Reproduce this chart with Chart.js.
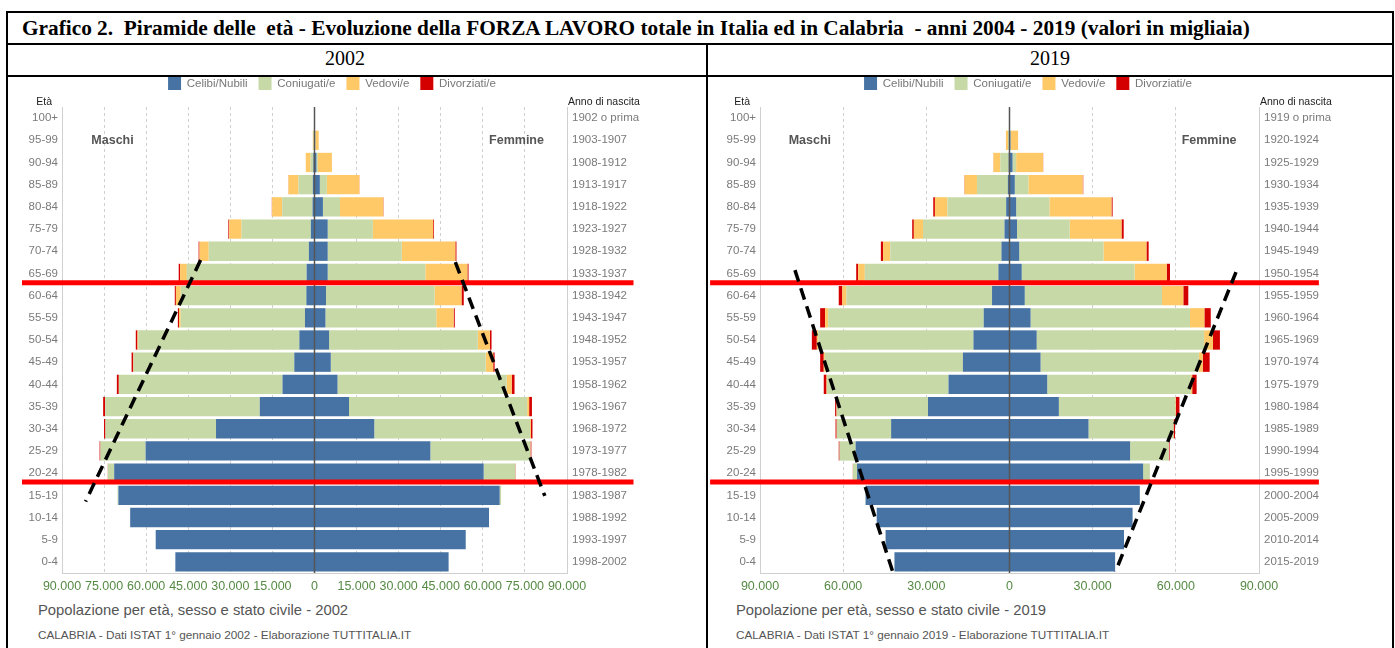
<!DOCTYPE html>
<html>
<head>
<meta charset="utf-8">
<script src="https://cdn.jsdelivr.net/npm/chart.js@4.4.1/dist/chart.umd.min.js"></script>
<style>
  body { margin:0; background:#fff; width:1395px; height:648px; overflow:hidden; position:relative; font-family:"Liberation Sans", Arial, sans-serif; }
  .ln { position:absolute; background:#000; }
  .t { position:absolute; white-space:pre; }
  canvas { position:absolute; }
</style>
</head>
<body>
<div class="ln" style="left:6px;top:11px;width:1388px;height:2px"></div>
<div class="ln" style="left:6px;top:11px;width:2px;height:637px"></div>
<div class="ln" style="left:1392px;top:11px;width:2px;height:637px"></div>
<div class="ln" style="left:6px;top:43px;width:1388px;height:1.5px"></div>
<div class="ln" style="left:6px;top:75px;width:1388px;height:2px"></div>
<div class="ln" style="left:706px;top:43px;width:2px;height:605px"></div>

<div class="t" style="left:22px;top:16px;font:bold 21.3px 'Liberation Serif',serif;line-height:25px">Grafico 2.  Piramide delle  età - Evoluzione della FORZA LAVORO totale in Italia ed in Calabria  - anni 2004 - 2019 (valori in migliaia)</div>
<div class="t" style="left:245px;width:200px;text-align:center;top:47px;font:20px 'Liberation Serif',serif;">2002</div>
<div class="t" style="left:950px;width:200px;text-align:center;top:47px;font:20px 'Liberation Serif',serif;">2019</div>

<canvas id="c2002" width="620" height="534" style="left:22px;top:66px"></canvas>
<canvas id="c2019" width="640" height="534" style="left:708px;top:66px"></canvas>

<div class="t" style="left:38px;top:601px;font:14.8px 'Liberation Sans',sans-serif;color:#555;line-height:18px">Popolazione per età, sesso e stato civile - 2002</div>
<div class="t" style="left:38px;top:628px;font:11.75px 'Liberation Sans',sans-serif;color:#555;line-height:14px">CALABRIA - Dati ISTAT 1° gennaio 2002 - Elaborazione TUTTITALIA.IT</div>
<div class="t" style="left:736px;top:601px;font:14.8px 'Liberation Sans',sans-serif;color:#555;line-height:18px">Popolazione per età, sesso e stato civile - 2019</div>
<div class="t" style="left:736px;top:628px;font:11.75px 'Liberation Sans',sans-serif;color:#555;line-height:14px">CALABRIA - Dati ISTAT 1° gennaio 2019 - Elaborazione TUTTITALIA.IT</div>

<script>
// age classes, top to bottom; values in thousands
const ages = ['100+','95-99','90-94','85-89','80-84','75-79','70-74','65-69','60-64','55-59','50-54','45-49','40-44','35-39','30-34','25-29','20-24','15-19','10-14','5-9','0-4'];
const status = ['Celibi/Nubili','Coniugati/e','Vedovi/e','Divorziati/e'];
const colors = ['#4673a3','#c6d9a7','#fec966','#d40000'];

const years2002 = ['1902 o prima','1903-1907','1908-1912','1913-1917','1918-1922','1923-1927','1928-1932','1933-1937','1938-1942','1943-1947','1948-1952','1953-1957','1958-1962','1963-1967','1968-1972','1973-1977','1978-1982','1983-1987','1988-1992','1993-1997','1998-2002'];
const years2019 = ['1919 o prima','1920-1924','1925-1929','1930-1934','1935-1939','1940-1944','1945-1949','1950-1954','1955-1959','1960-1964','1965-1969','1970-1974','1975-1979','1980-1984','1985-1989','1990-1994','1995-1999','2000-2004','2005-2009','2010-2014','2015-2019'];

// 2002
const m02Cel = [0.02,0.1,0.4,0.6,0.7,1.3,2.0,2.8,2.9,3.4,5.4,7.2,11.4,19.5,35.1,60.2,71.4,69.9,65.7,56.6,49.6];
const m02Con = [0.03,0.2,1.0,5.1,10.8,24.7,35.7,42.7,44.8,44.3,57.4,57.3,58.3,55.1,39.4,16.1,2.3,0.3,0,0,0];
const m02Ved = [0.05,0.3,1.7,3.6,3.6,4.4,3.3,2.4,1.7,0.6,0.3,0.1,0.05,0.03,0.02,0,0,0,0,0,0];
const m02Div = [0,0,0,0.05,0.1,0.3,0.3,0.5,0.4,0.4,0.6,0.6,0.7,0.7,0.5,0.3,0.05,0,0,0,0];
const f02Cel = [0.02,0.2,0.7,1.9,3.0,4.7,4.7,4.7,4.1,3.9,5.2,5.8,8.2,12.3,21.3,41.3,60.3,66.0,62.2,53.9,47.8];
const f02Con = [0.01,0.1,0.5,2.5,6.1,16.1,26.4,34.8,38.7,39.5,53.0,55.2,60.3,63.5,55.5,35.6,11.3,0.5,0,0,0];
const f02Ved = [0.1,1.2,5.0,11.6,15.4,21.5,19.1,15.0,9.6,6.2,4.3,2.7,1.8,0.7,0.3,0.1,0,0,0,0,0];
const f02Div = [0,0,0,0.05,0.1,0.3,0.4,0.4,0.8,0.4,0.6,0.5,1.0,1.0,0.6,0.3,0.1,0,0,0,0];

// 2019
const m19Cel = [0.02,0.1,0.3,0.6,1.2,1.8,2.9,4.0,6.3,9.3,13.0,16.8,22.0,29.4,42.7,55.5,55.0,51.9,47.9,44.7,41.5];
const m19Con = [0.03,0.4,3.0,11.1,21.2,29.4,40.1,48.2,52.5,56.1,56.0,49.8,43.8,32.9,19.6,5.8,1.5,0.1,0,0,0];
const m19Ved = [0.05,0.8,2.5,4.5,4.5,3.3,2.6,2.4,1.5,1.1,0.5,0.4,0.2,0.1,0.05,0,0,0,0,0,0];
const m19Div = [0,0,0.05,0.1,0.6,0.6,0.8,0.7,1.3,1.8,1.8,1.3,1.0,0.5,0.4,0.3,0.05,0,0,0,0];
const f19Cel = [0.02,0.3,1.1,1.9,2.4,2.7,3.5,4.4,5.5,7.6,9.8,11.2,13.6,17.8,28.5,43.5,48.2,47.0,44.4,41.3,38.1];
const f19Con = [0.01,0.2,1.3,4.9,12.0,19.0,30.4,40.7,49.5,57.5,60.4,57.1,51.8,42.0,30.6,13.9,2.4,0.1,0,0,0];
const f19Ved = [0.15,2.6,9.7,19.6,22.4,18.7,15.5,11.6,7.7,5.2,3.2,1.4,0.5,0.2,0.1,0.05,0,0,0,0,0];
const f19Div = [0,0,0.05,0.2,0.4,0.8,0.8,1.2,1.8,2.3,2.5,2.5,1.6,1.3,0.5,0.3,0.05,0,0,0,0];

// overlay marks drawn on the original: red band limits and dashed trend lines (value, category index)
const red2002 = [7.42, 16.4], redSpan2002 = [-104700, 113700];
const dash2002 = [[-40600, 6.4, -81600, 17.28], [50200, 6.49, 82100, 17.03]];
const red2019 = [7.42, 16.4], redSpan2019 = [-108000, 111600];
const dash2019 = [[-77400, 6.85, -42100, 20.45], [81700, 6.94, 38200, 20.45]];

const fmt = v => String(Math.abs(v)).replace(/\B(?=(\d{3})+(?!\d))/g, '.');

const overlay = {
  id: 'overlay',
  afterDatasetsDraw(chart) {
    const {ctx, chartArea: a, scales: {x}} = chart;
    const cx = x.getPixelForValue(0);
    ctx.save();
    ctx.strokeStyle = '#555'; ctx.lineWidth = 1.5;
    ctx.beginPath(); ctx.moveTo(cx, a.top); ctx.lineTo(cx, a.bottom); ctx.stroke();
    ctx.restore();
  },
  afterDraw(chart, args, o) {
    const {ctx, chartArea: a, scales: {x, y}} = chart;
    ctx.save();
    ctx.fillStyle = '#555';
    ctx.font = 'bold 12.5px "Liberation Sans"';
    ctx.textAlign = 'center'; ctx.textBaseline = 'middle';
    ctx.fillText('Maschi', x.getPixelForValue(-o.label), y.getPixelForValue(1));
    ctx.fillText('Femmine', x.getPixelForValue(o.label), y.getPixelForValue(1));
    ctx.fillStyle = '#222';
    ctx.font = '10.5px "Liberation Sans"';
    ctx.textAlign = 'right';
    ctx.fillText('Età', a.left - 10, a.top - 5);
    ctx.textAlign = 'left';
    ctx.fillText('Anno di nascita', a.right + 1, a.top - 5);

    ctx.strokeStyle = '#ff0000'; ctx.lineWidth = 5;
    o.red.forEach(r => {
      const py = y.getPixelForValue(r);
      ctx.beginPath(); ctx.moveTo(x.getPixelForValue(o.redSpan[0]), py); ctx.lineTo(x.getPixelForValue(o.redSpan[1]), py); ctx.stroke();
    });
    ctx.strokeStyle = '#000'; ctx.lineWidth = 3.5; ctx.setLineDash([12, 7]);
    o.dash.forEach(d => {
      ctx.beginPath();
      ctx.moveTo(x.getPixelForValue(d[0]), y.getPixelForValue(d[1]));
      ctx.lineTo(x.getPixelForValue(d[2]), y.getPixelForValue(d[3]));
      ctx.stroke();
    });
    ctx.restore();
  }
};

function pyramid(id, male, female, years, step, yW, y2W, ann) {
  const datasets = [];
  male.forEach((arr, i) => datasets.push({label: status[i], data: arr.map(v => -v * 1000), backgroundColor: colors[i], xAxisID: 'x', yAxisID: 'y'}));
  female.forEach((arr, i) => datasets.push({label: status[i], data: arr.map(v => v * 1000), backgroundColor: colors[i], xAxisID: 'x', yAxisID: 'y'}));
  return new Chart(document.getElementById(id), {
    type: 'bar',
    data: {labels: ages, datasets},
    plugins: [overlay],
    options: {
      indexAxis: 'y',
      responsive: false,
      animation: false,
      devicePixelRatio: 1,
      layout: {padding: 0},
      barPercentage: 0.87,
      categoryPercentage: 1,
      borderWidth: 0,
      plugins: {
        legend: {
          labels: {
            filter: item => item.datasetIndex >= 4,
            boxWidth: 13, boxHeight: 13, padding: 11,
            color: '#777', font: {family: 'Liberation Sans', size: 11.5}
          }
        },
        tooltip: {enabled: false},
        overlay: ann
      },
      scales: {
        x: {
          type: 'linear', stacked: true, min: -90000, max: 90000,
          ticks: {stepSize: step, callback: v => fmt(v), color: '#558a44', padding: 6, font: {family: 'Liberation Sans', size: 12.5}, maxRotation: 0, autoSkip: false},
          grid: {color: '#d0d0d0', drawTicks: false},
          border: {dash: [3, 3], color: '#cfcfcf'},
          afterFit: s => { s.height = 27; }
        },
        xt: {
          type: 'linear', position: 'top', min: 0, max: 1,
          grid: {display: false, drawTicks: false}, border: {display: false}, ticks: {display: false},
          afterFit: s => { s.height = 7; }
        },
        y: {
          stacked: true, offset: true,
          grid: {display: false, drawTicks: false},
          border: {color: '#d0d0d0'},
          ticks: {color: '#7a7a7a', padding: 4, font: {family: 'Liberation Sans', size: 11.5}, autoSkip: false},
          afterFit: s => { s.width = yW; }
        },
        y2: {
          type: 'category', labels: years, position: 'right', offset: true,
          grid: {display: false, drawTicks: false},
          border: {color: '#d0d0d0'},
          ticks: {color: '#7a7a7a', padding: 5, font: {family: 'Liberation Sans', size: 11.5}, autoSkip: false},
          afterFit: s => { s.width = y2W; }
        }
      }
    }
  });
}

pyramid('c2002', [m02Cel, m02Con, m02Ved, m02Div], [f02Cel, f02Con, f02Ved, f02Div], years2002, 15000, 40, 75,
  {label: 72000, red: red2002, redSpan: redSpan2002, dash: dash2002});
pyramid('c2019', [m19Cel, m19Con, m19Ved, m19Div], [f19Cel, f19Con, f19Ved, f19Div], years2019, 30000, 52, 89,
  {label: 72000, red: red2019, redSpan: redSpan2019, dash: dash2019});
</script>
</body>
</html>
